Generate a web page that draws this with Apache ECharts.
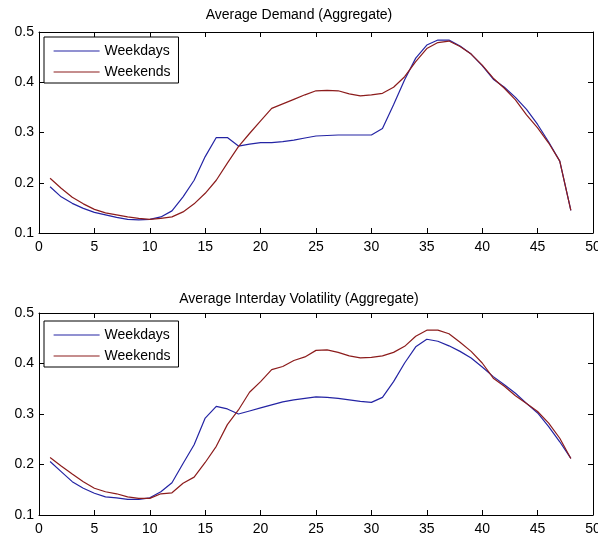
<!DOCTYPE html>
<html>
<head>
<meta charset="utf-8">
<script src="https://cdn.jsdelivr.net/npm/echarts@6/dist/echarts.min.js"></script>
<style>
  html, body { margin: 0; padding: 0; background: #fff; }
  #main { width: 598px; height: 537px; }
</style>
</head>
<body>
<div id="main"></div>
<script>
// half-hour periods of the day
var periods = [1, 2, 3, 4, 5, 6, 7, 8, 9, 10, 11, 12, 13, 14, 15, 16, 17, 18, 19, 20, 21, 22, 23, 24,
  25, 26, 27, 28, 29, 30, 31, 32, 33, 34, 35, 36, 37, 38, 39, 40, 41, 42, 43, 44, 45, 46, 47, 48];

// Average Demand (Aggregate)
var demandWeekdays = [0.192, 0.172, 0.159, 0.149, 0.141, 0.136, 0.131, 0.127, 0.126, 0.127, 0.132, 0.144,
  0.172, 0.205, 0.252, 0.290, 0.290, 0.273, 0.277, 0.280, 0.280, 0.282, 0.285, 0.289,
  0.293, 0.294, 0.295, 0.295, 0.295, 0.295, 0.308, 0.355, 0.405, 0.448, 0.474, 0.484,
  0.484, 0.472, 0.456, 0.433, 0.406, 0.390, 0.370, 0.346, 0.316, 0.281, 0.243, 0.145];
var demandWeekends = [0.209, 0.189, 0.171, 0.158, 0.147, 0.140, 0.136, 0.132, 0.129, 0.127, 0.129, 0.132,
  0.142, 0.158, 0.179, 0.205, 0.239, 0.272, 0.298, 0.323, 0.348, 0.357, 0.366, 0.375,
  0.383, 0.384, 0.383, 0.377, 0.373, 0.375, 0.378, 0.390, 0.411, 0.441, 0.467, 0.479,
  0.482, 0.471, 0.456, 0.434, 0.408, 0.388, 0.365, 0.335, 0.309, 0.279, 0.243, 0.145];

// Average Interday Volatility (Aggregate)
var volWeekdays = [0.206, 0.186, 0.166, 0.153, 0.143, 0.136, 0.134, 0.131, 0.131, 0.134, 0.146, 0.164,
  0.202, 0.239, 0.292, 0.315, 0.310, 0.300, 0.306, 0.312, 0.318, 0.324, 0.328, 0.331,
  0.334, 0.333, 0.331, 0.328, 0.325, 0.323, 0.333, 0.364, 0.401, 0.433, 0.448, 0.444,
  0.435, 0.424, 0.411, 0.393, 0.374, 0.358, 0.341, 0.321, 0.302, 0.275, 0.245, 0.212];
var volWeekends = [0.214, 0.197, 0.181, 0.166, 0.153, 0.146, 0.142, 0.136, 0.133, 0.133, 0.142, 0.144,
  0.163, 0.175, 0.204, 0.236, 0.279, 0.308, 0.343, 0.364, 0.388, 0.394, 0.406, 0.413,
  0.426, 0.427, 0.422, 0.415, 0.411, 0.412, 0.415, 0.422, 0.434, 0.454, 0.466, 0.466,
  0.459, 0.442, 0.424, 0.401, 0.371, 0.355, 0.336, 0.321, 0.305, 0.282, 0.252, 0.212];

var titles = ["Average Demand (Aggregate)", "Average Interday Volatility (Aggregate)"];
var seriesNames = ["Weekdays", "Weekends"];

var blue = "#2424a4";
var red = "#8c1c1c";
var font = "Liberation Sans, Arial, sans-serif";

function pairs(ys) {
  return periods.map(function (p, i) { return [p, ys[i]]; });
}

var grids = [
  { left: 39, top: 32, width: 554, height: 201, outerBoundsMode: "none" },
  { left: 39, top: 313, width: 554, height: 202, outerBoundsMode: "none" }
];

var xAxes = [], yAxes = [];
grids.forEach(function (g, gi) {
  ["bottom", "top"].forEach(function (pos) {
    xAxes.push({
      type: "value", gridIndex: gi, position: pos, min: 0, max: 50, interval: 5,
      axisLine: { show: true, onZero: false, lineStyle: { color: "#000", width: 1 } },
      axisTick: { show: true, inside: true, length: 5, lineStyle: { color: "#000" } },
      axisLabel: { show: pos === "bottom", color: "#000", fontFamily: font, fontSize: 14, margin: 7 },
      splitLine: { show: false }
    });
  });
  ["left", "right"].forEach(function (pos) {
    yAxes.push({
      type: "value", gridIndex: gi, position: pos, min: 0.1, max: 0.5, interval: 0.1,
      axisLine: { show: true, onZero: false, lineStyle: { color: "#000", width: 1 } },
      axisTick: { show: true, inside: true, length: 5, lineStyle: { color: "#000" } },
      axisLabel: { show: pos === "left", color: "#000", fontFamily: font, fontSize: 14, margin: 5,
        formatter: function (v) { return v.toFixed(1); } },
      splitLine: { show: false }
    });
  });
});

function line(name, data, color, gi) {
  return {
    name: name, type: "line", xAxisIndex: gi * 2, yAxisIndex: gi * 2,
    data: pairs(data), symbol: "none", smooth: false,
    lineStyle: { color: color, width: 1.2 }, itemStyle: { color: color }
  };
}

function legendAt(top) {
  return {
    data: seriesNames, orient: "vertical", left: 44, top: top,
    itemWidth: 46, itemHeight: 14, itemGap: 7,
    padding: [7, 8, 4, 9],
    borderColor: "#000", borderWidth: 1, backgroundColor: "#fff",
    selectedMode: false,
    itemStyle: { opacity: 0 },
    lineStyle: { width: 1.2 },
    textStyle: { color: "#000", fontFamily: font, fontSize: 14 }
  };
}

var chart = echarts.init(document.getElementById("main"));
chart.setOption({
  animation: false,
  backgroundColor: "#fff",
  title: [
    { text: titles[0], left: "center", top: 3, textStyle: { color: "#000", fontWeight: "normal", fontFamily: font, fontSize: 14 } },
    { text: titles[1], left: "center", top: 287, textStyle: { color: "#000", fontWeight: "normal", fontFamily: font, fontSize: 14 } }
  ],
  legend: [legendAt(37), legendAt(321)],
  grid: grids,
  xAxis: xAxes,
  yAxis: yAxes,
  series: [
    line(seriesNames[0], demandWeekdays, blue, 0),
    line(seriesNames[1], demandWeekends, red, 0),
    line(seriesNames[0], volWeekdays, blue, 1),
    line(seriesNames[1], volWeekends, red, 1)
  ]
});
</script>
</body>
</html>
